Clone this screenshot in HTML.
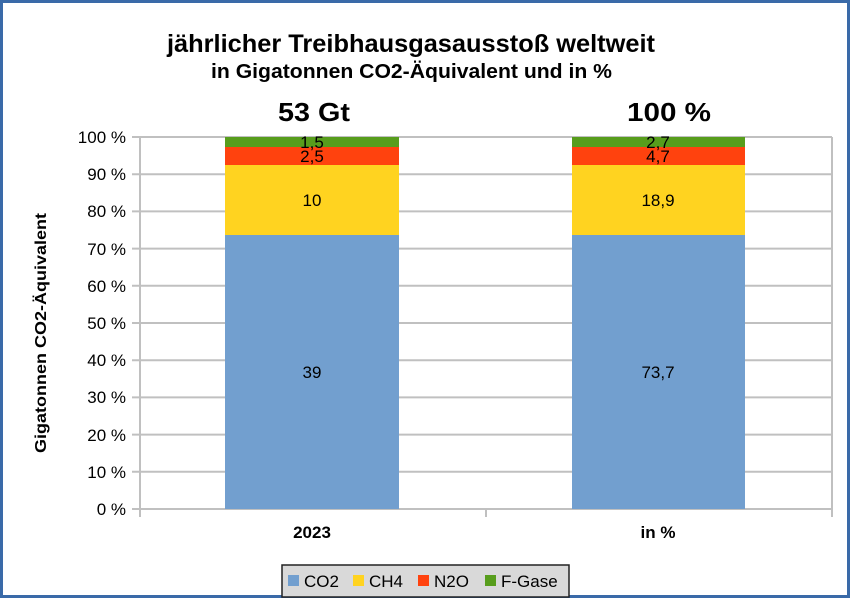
<!DOCTYPE html>
<html><head><meta charset="utf-8"><style>
html,body{margin:0;padding:0;background:#fff;}
svg{display:block;font-family:"Liberation Sans",sans-serif;}
</style></head><body>
<svg width="850" height="598" viewBox="0 0 850 598" xmlns="http://www.w3.org/2000/svg">
<rect x="1.5" y="1.5" width="847" height="595" fill="#fff" stroke="#3a6aa8" stroke-width="3"/>
<text x="167" y="52" font-size="25" font-weight="bold" textLength="488" lengthAdjust="spacingAndGlyphs">jährlicher Treibhausgasausstoß weltweit</text>
<text x="211" y="78" font-size="20" font-weight="bold" textLength="401" lengthAdjust="spacingAndGlyphs">in Gigatonnen CO2-Äquivalent und in %</text>
<text x="278" y="121" font-size="26" font-weight="bold" textLength="72" lengthAdjust="spacingAndGlyphs">53 Gt</text>
<text x="627" y="121" font-size="26" font-weight="bold" textLength="84" lengthAdjust="spacingAndGlyphs">100 %</text>
<g stroke="#c0c0c0" stroke-width="2">
<line x1="132" y1="137" x2="832" y2="137"/>
<line x1="132" y1="174.2" x2="832" y2="174.2"/>
<line x1="132" y1="211.4" x2="832" y2="211.4"/>
<line x1="132" y1="248.6" x2="832" y2="248.6"/>
<line x1="132" y1="285.8" x2="832" y2="285.8"/>
<line x1="132" y1="323" x2="832" y2="323"/>
<line x1="132" y1="360.2" x2="832" y2="360.2"/>
<line x1="132" y1="397.4" x2="832" y2="397.4"/>
<line x1="132" y1="434.6" x2="832" y2="434.6"/>
<line x1="132" y1="471.8" x2="832" y2="471.8"/>
<line x1="132" y1="509" x2="832" y2="509"/>
<line x1="140" y1="137" x2="140" y2="517"/>
<line x1="832" y1="137" x2="832" y2="517"/>
<line x1="486" y1="509" x2="486" y2="517"/>
</g>
<g>
<rect x="225" y="235" width="174" height="274" fill="#729fcf"/>
<rect x="225" y="165" width="174" height="70" fill="#ffd320"/>
<rect x="225" y="147" width="174" height="18" fill="#ff420e"/>
<rect x="225" y="137" width="174" height="10" fill="#579d1c"/>
<rect x="572" y="235" width="173" height="274" fill="#729fcf"/>
<rect x="572" y="165" width="173" height="70" fill="#ffd320"/>
<rect x="572" y="147" width="173" height="18" fill="#ff420e"/>
<rect x="572" y="137" width="173" height="10" fill="#579d1c"/>
</g>
<g font-size="17" text-anchor="middle" fill="#000">
<text x="312" y="378">39</text><text x="658" y="378">73,7</text>
<text x="312" y="206">10</text><text x="658" y="206">18,9</text>
<text x="312" y="162">2,5</text><text x="658" y="162">4,7</text>
<text x="312" y="148">1,5</text><text x="658" y="148">2,7</text>
</g>
<g font-size="17" text-anchor="end" fill="#000">
<text x="126" y="143">100 %</text><text x="126" y="180">90 %</text><text x="126" y="217">80 %</text>
<text x="126" y="255">70 %</text><text x="126" y="292">60 %</text><text x="126" y="329">50 %</text>
<text x="126" y="366">40 %</text><text x="126" y="403">30 %</text><text x="126" y="441">20 %</text>
<text x="126" y="478">10 %</text><text x="126" y="515">0 %</text>
</g>
<text transform="translate(46,333) rotate(-90)" text-anchor="middle" font-size="16" font-weight="bold" textLength="240" lengthAdjust="spacingAndGlyphs">Gigatonnen CO2-Äquivalent</text>
<text x="312" y="538" text-anchor="middle" font-size="17" font-weight="bold">2023</text>
<text x="658" y="538" text-anchor="middle" font-size="17" font-weight="bold">in %</text>
<rect x="282" y="565" width="287" height="32" fill="#d9d9d9" stroke="#222" stroke-width="1.5"/>
<rect x="288" y="575" width="11" height="11" fill="#729fcf"/>
<text x="304" y="587" font-size="17">CO2</text>
<rect x="353" y="575" width="11" height="11" fill="#ffd320"/>
<text x="369" y="587" font-size="17">CH4</text>
<rect x="418" y="575" width="11" height="11" fill="#ff420e"/>
<text x="434" y="587" font-size="17">N2O</text>
<rect x="485" y="575" width="11" height="11" fill="#579d1c"/>
<text x="501" y="587" font-size="17">F-Gase</text>
</svg>
</body></html>
